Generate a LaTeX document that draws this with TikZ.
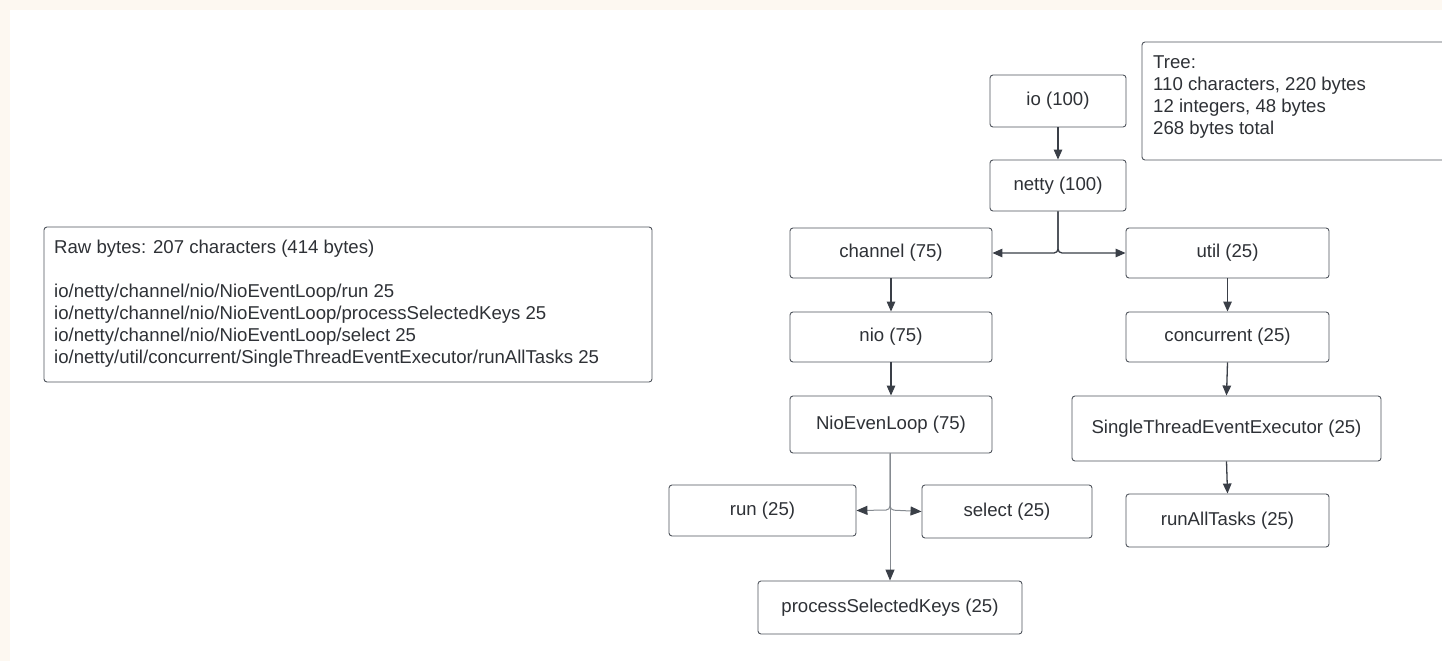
\documentclass[tikz,border=0pt]{standalone}
\usepackage{fontspec}
\setmainfont{Liberation Sans}
\usetikzlibrary{arrows.meta}
\definecolor{cream}{HTML}{FDF8F1}
\definecolor{boxline}{HTML}{4F545C}
\definecolor{txt}{HTML}{2E3136}
\definecolor{conn}{HTML}{3A3F47}
\definecolor{connlight}{HTML}{858A90}
\tikzset{
  box/.style={draw=boxline, line width=0.9pt, rounded corners=3pt, fill=white,
    text=txt, font=\fontsize{18.6}{22}\selectfont, inner sep=0pt},
  conn/.style={draw=conn, line width=1.3pt, -{Triangle[length=10pt,width=8.5pt]}},
  connl/.style={draw=connlight, line width=1pt, -{Triangle[length=11pt,width=9pt,color=conn,fill=conn]}},
  body/.style={text=txt, font=\fontsize{18.6}{22}\selectfont, inner sep=0pt, align=left, anchor=north west}
}
\begin{document}
\begin{tikzpicture}[x=1pt,y=-1pt]
\fill[cream] (0,0) rectangle (1442,661);
\fill[white] (10,10) rectangle (1442,661);
\useasboundingbox (0,0) rectangle (1442,661);

% info boxes
\node[box, minimum width=608pt, minimum height=155pt] (rawbox) at (348,304.5) {};
\node[body] (rawtext) at (54,239.5) {Raw bytes: 207 characters (414 bytes)\\[22pt]
io/netty/channel/nio/NioEventLoop/run 25\\
io/netty/channel/nio/NioEventLoop/processSelectedKeys 25\\
io/netty/channel/nio/NioEventLoop/select 25\\
io/netty/util/concurrent/SingleThreadEventExecutor/runAllTasks 25};

\node[box, minimum width=310pt, minimum height=118pt] (treebox) at (1297,101) {};
\node[body] (treetext) at (1153,55.7) {Tree:\\
110 characters, 220 bytes\\
12 integers, 48 bytes\\
268 bytes total};

% tree nodes
\node[box, minimum width=136pt, minimum height=52pt] (io) at (1058,101) {io (100)};
\node[box, minimum width=136pt, minimum height=51pt] (netty) at (1058,185.5) {netty (100)};
\node[box, minimum width=202pt, minimum height=50pt] (channel) at (891,253) {channel (75)};
\node[box, minimum width=203pt, minimum height=50pt] (util) at (1227.5,253) {util (25)};
\node[box, minimum width=202pt, minimum height=50pt] (nio) at (891,337) {nio (75)};
\node[box, minimum width=203pt, minimum height=50pt] (concurrent) at (1227.5,337) {concurrent (25)};
\node[box, minimum width=202pt, minimum height=57pt] (nel) at (891,424.5) {NioEvenLoop (75)};
\node[box, minimum width=309pt, minimum height=65pt] (stee) at (1226.5,428.5) {SingleThreadEventExecutor (25)};
\node[box, minimum width=203pt, minimum height=53pt] (rat) at (1227.5,520.5) {runAllTasks (25)};
\node[box, minimum width=187pt, minimum height=51pt] (run) at (762.5,510.5) {run (25)};
\node[box, minimum width=170pt, minimum height=53pt] (select) at (1007,511.5) {select (25)};
\node[box, minimum width=264pt, minimum height=53pt] (psk) at (890,607.5) {processSelectedKeys (25)};

% connectors
\coordinate (nj) at (1058,253);
\coordinate (ej) at (890,510);
\draw[conn] (io.south) -- (netty.north);
\draw[conn, rounded corners=4pt] (netty.south) -- (nj) -- (channel.east);
\draw[conn, rounded corners=4pt] (netty.south) -- (nj) -- (util.west);
\draw[conn] (channel.south) -- (nio.north);
\draw[conn] (nio.south) -- (nel.north);
\draw[conn] (util.south) -- (concurrent.north);
\draw[conn] (concurrent.south) -- (stee.north);
\draw[conn] (stee.south) -- (rat.north);
\draw[connl] (nel.south -| ej) -- (psk.north -| ej);
\draw[connl, rounded corners=4pt] (nel.south -| ej) -- (ej) -- (run.east);
\draw[connl, rounded corners=4pt] (nel.south -| ej) -- (ej) -- (select.west);
\end{tikzpicture}
\end{document}
